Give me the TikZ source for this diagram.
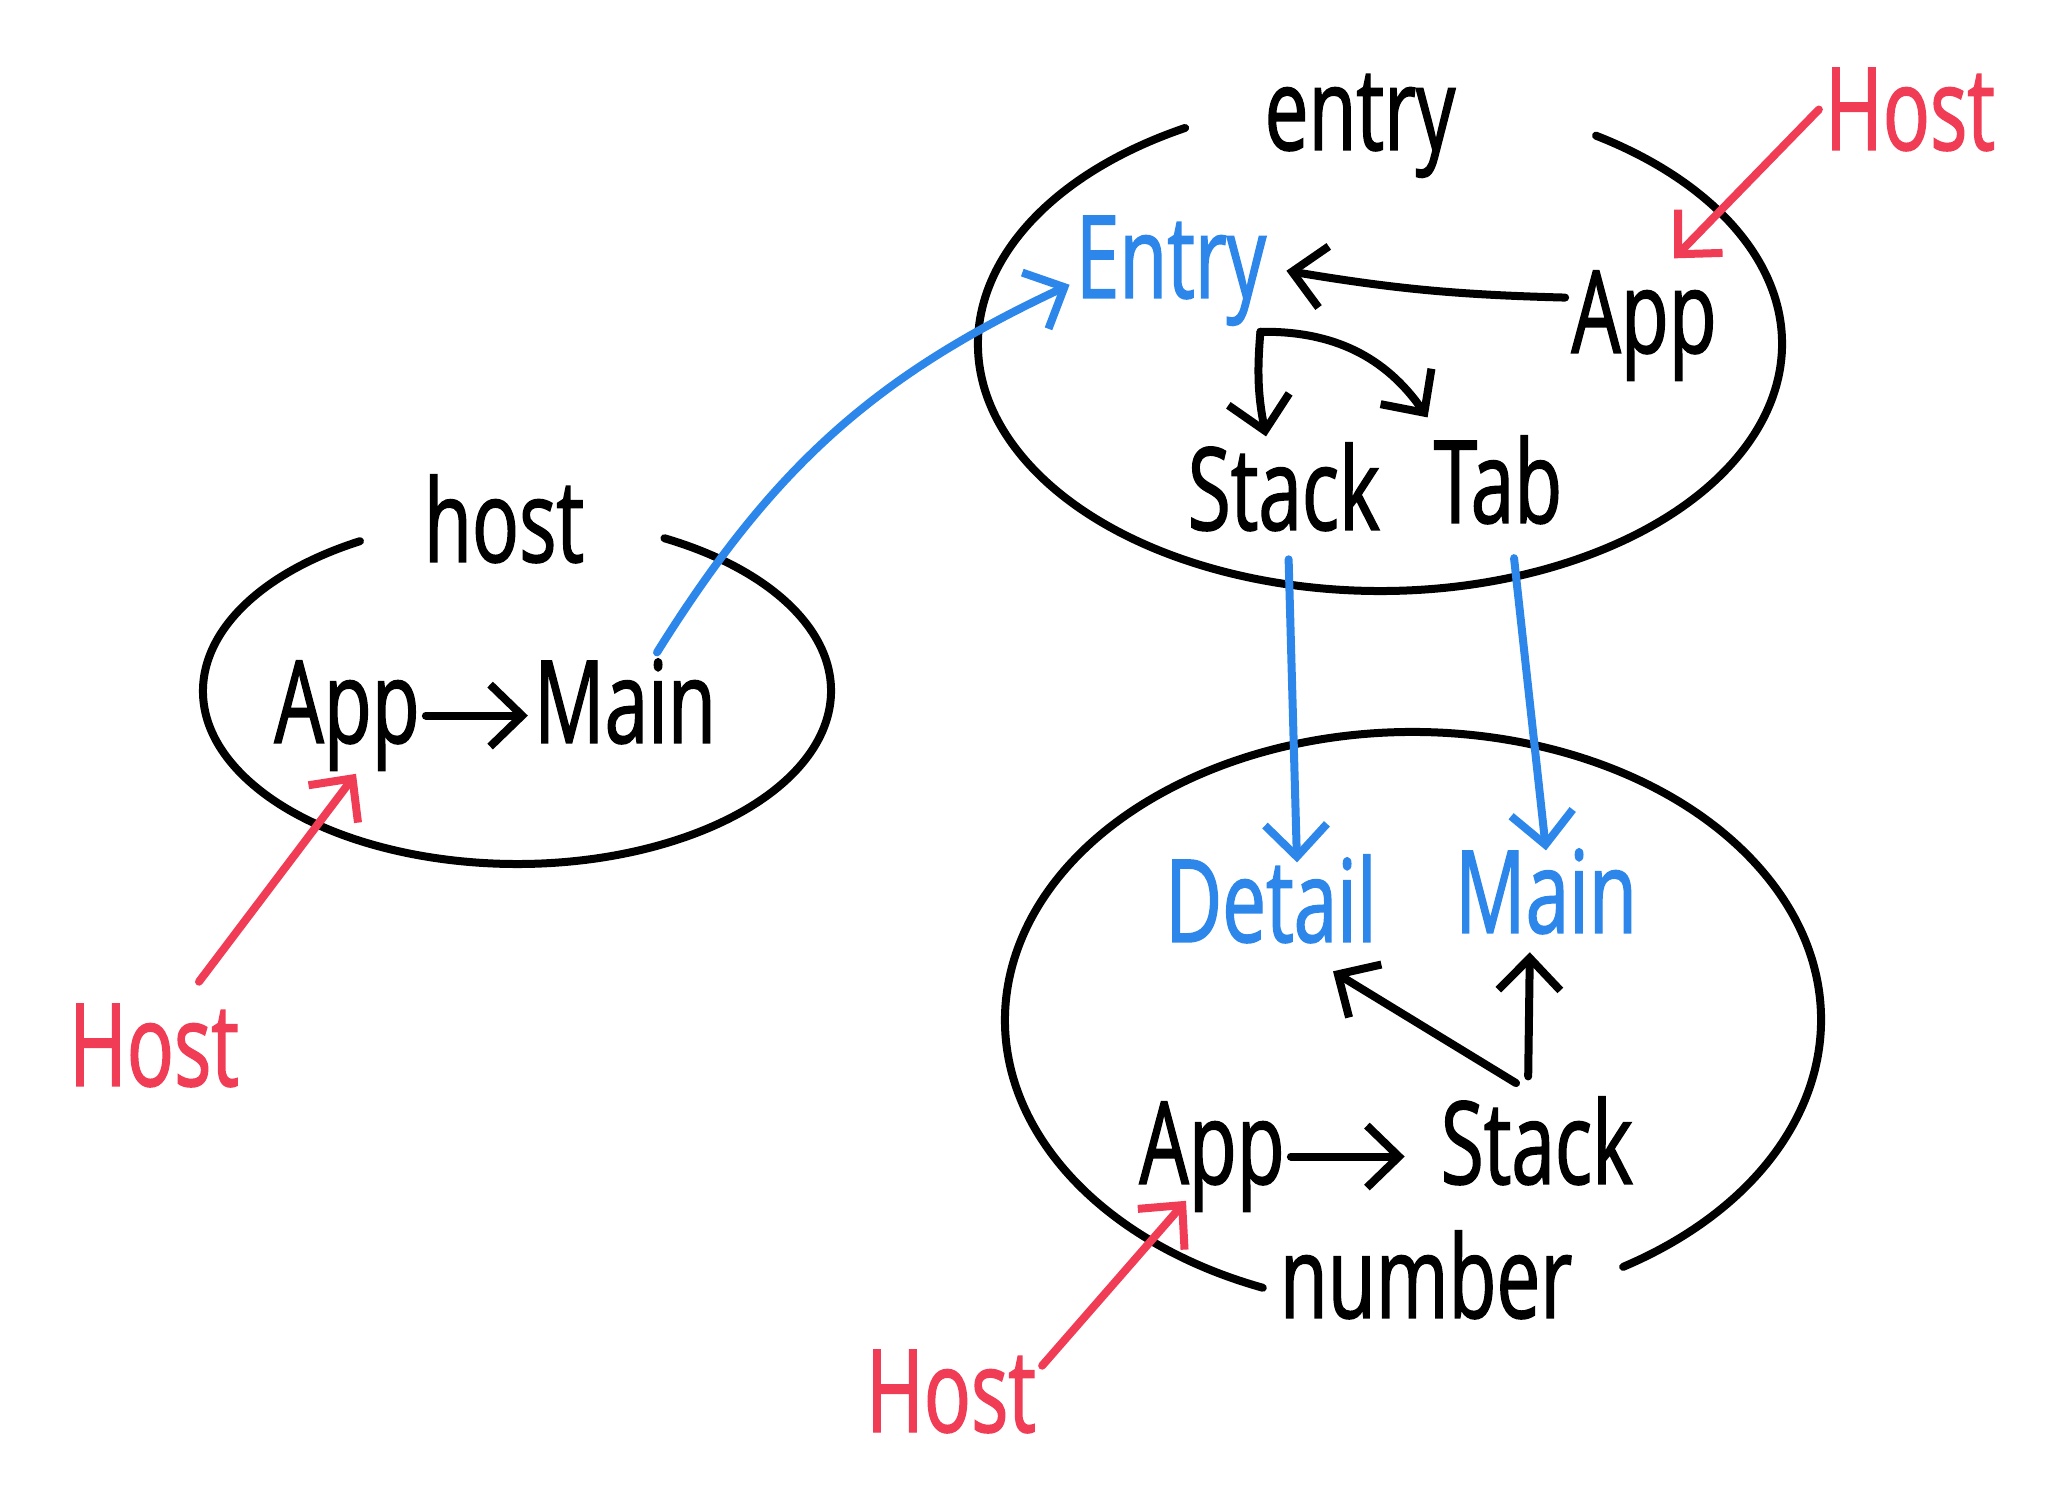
\documentclass[tikz,border=0pt]{standalone}
\usepackage{fontspec}
\setmainfont{Open Sans}[FakeStretch=0.68, FakeBold=1.2]
\usetikzlibrary{arrows.meta}
\definecolor{inkblue}{RGB}{45,135,235}
\definecolor{inkred}{RGB}{240,60,85}
\tikzset{
  word/.style={font=\fontsize{115}{120}\selectfont, inner sep=6pt, anchor=base},
  pen/.style={line width=8pt, line cap=round, line join=round},
  arr/.style={pen, -{Straight Barb[length=32pt,width=62pt]}},
}
\begin{document}
\begin{tikzpicture}[x=1pt,y=1pt]
\useasboundingbox (0,0) rectangle (2051,1489);

% ellipses (open where the labels sit)
\draw[pen] (1380,1145) ++(119:402 and 247) arc[start angle=119, end angle=417.5, x radius=402, y radius=247];
\draw[pen] (517,798) ++(120:314 and 173) arc[start angle=120, end angle=422, x radius=314, y radius=173];
\draw[pen] (1413,469) ++(301:408 and 288) arc[start angle=301, end angle=608.4, x radius=408, y radius=288];

% labels
\node[word] (entryLbl) at (1360,1339) {entry};
\node[word, text=inkblue] (entryB) at (1171,1191) {Entry};
\node[word] (appE) at (1644,1136) {App};
\node[word] (stackE) at (1284,959) {Stack};
\node[word] (tab) at (1498,966) {Tab};
\node[word] (hostLbl) at (504,927) {host};
\node[word] (appH) at (347,746) {App};
\node[word] (mainH) at (625,746) {Main};
\node[word, text=inkblue] (detail) at (1271,547) {Detail};
\node[word, text=inkblue] (mainN) at (1546,556) {Main};
\node[word] (appN) at (1212,305) {App};
\node[word] (stackN) at (1537,305) {Stack};
\node[word] (numberLbl) at (1426,171) {number};
\node[word, text=inkred] (hostTR) at (1910,1339) {Host};
\node[word, text=inkred] (hostBL) at (154,403) {Host};
\node[word, text=inkred] (hostB) at (951,57) {Host};

% entry module
\draw[arr] ([yshift=28pt]appE.west) to[bend left=4] ([xshift=14pt]entryB.east);
\draw[arr] ([xshift=-12pt]entryB.south east) to[bend right=8] ([xshift=-18pt]stackE.north);
\draw[arr] ([xshift=-12pt]entryB.south east) to[bend left=28] ([yshift=12pt]tab.north west);

% host module
\draw[arr] (appH.east) -- (appH.east -| mainH.west);
\draw[arr, inkblue] ([xshift=32pt]mainH.north) to[out=58, in=205] ([yshift=-14pt]entryB.west);

% entry -> number
\draw[arr, inkblue, shorten <=22pt] ([xshift=4pt]stackE.south) -- ([xshift=26pt,yshift=-14pt]detail.north);
\draw[arr, inkblue, shorten <=28pt] ([xshift=13pt]tab.south) -- ([yshift=-8pt]mainN.north);

% number module
\draw[arr, shorten >=30pt] (appN.east) -- (appN.east -| stackN.west);
\draw[arr, shorten <=14pt] ([xshift=-9pt]stackN.north) -- ([xshift=62pt,yshift=-22pt]detail.south);
\draw[arr, shorten <=14pt, shorten >=12pt] ([xshift=-9pt]stackN.north) -- ([xshift=-16pt]mainN.south);

% Host arrows
\draw[arr, inkred] (hostTR.west) -- ([xshift=30pt,yshift=6pt]appE.north);
\draw[arr, inkred] ([xshift=45pt,yshift=16pt]hostBL.north) -- ([xshift=9pt,yshift=3pt]appH.south);
\draw[arr, inkred] ([yshift=-22pt]hostB.north east) -- ([xshift=-26pt,yshift=17pt]appN.south);
\end{tikzpicture}
\end{document}
